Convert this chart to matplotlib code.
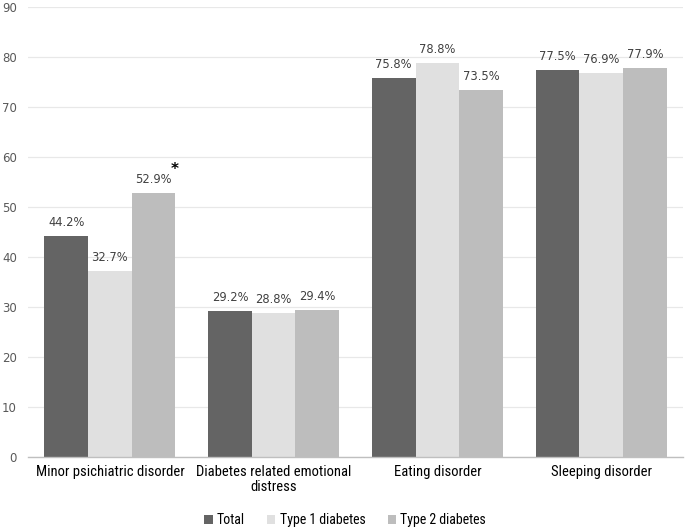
import matplotlib
matplotlib.use("Agg")
import matplotlib.pyplot as plt
import numpy as np
from matplotlib import font_manager as fm

categories = ["Minor psichiatric disorder", "Diabetes related emotional\ndistress", "Eating disorder", "Sleeping disorder"]
series_names = ["Total", "Type 1 diabetes", "Type 2 diabetes"]
total = [44.2, 29.2, 75.8, 77.5]
type1 = [37.2, 28.8, 78.8, 76.9]
type2 = [52.9, 29.4, 73.5, 77.9]
label_total = ["44.2%", "29.2%", "75.8%", "77.5%"]
label_type1 = ["32.7%", "28.8%", "78.8%", "76.9%"]
label_type2 = ["52.9%*", "29.4%", "73.5%", "77.9%"]
yticks = [0, 10, 20, 30, 40, 50, 60, 70, 80, 90]

colors = ["#646464", "#e0e0e0", "#bdbdbd"]

names = {f.name for f in fm.fontManager.ttflist}
narrow = None
for cand in ["Liberation Sans Narrow", "DejaVu Sans Condensed", "Roboto Condensed", "Open Sans Condensed"]:
    if cand in names:
        narrow = cand
        break
if narrow is None:
    narrow = "Liberation Sans"
    xsize = 9.6
else:
    xsize = 10.5

fig = plt.figure(figsize=(6.85, 5.31), dpi=100)
ax = fig.add_axes([28/685, 74/531, 655/685, 450/531])

x = np.arange(len(categories))
w = 0.8/3
series = [total, type1, type2]
labels = [label_total, label_type1, label_type2]
for i, (vals, labs) in enumerate(zip(series, labels)):
    pos = x + (i-1)*w
    ax.bar(pos, vals, width=w, color=colors[i], label=series_names[i], zorder=2)
    for p, v, l in zip(pos, vals, labs):
        star = l.endswith("*")
        txt = l.rstrip("*")
        ax.annotate(txt, (p, v), xytext=(0, 5), textcoords="offset points",
                    ha="center", va="bottom", fontsize=8.3, color="#404040", family="DejaVu Sans")
        if star:
            ax.annotate("*", (p, v), xytext=(15, 11.5), textcoords="offset points",
                        ha="center", va="bottom", fontsize=11, color="black", fontweight="bold")

ax.set_xlim(-0.5, 3.5)
ax.set_ylim(0, 90)
ax.set_yticks(yticks)
ax.set_yticklabels([str(t) for t in yticks], color="#595959", fontsize=8.5)
ax.set_xticks(x)
ax.set_xticklabels(categories, fontsize=xsize, family=narrow, color="black", linespacing=1.1)
ax.tick_params(axis="both", length=0)
ax.tick_params(axis="y", pad=8)
ax.tick_params(axis="x", pad=6)
ax.yaxis.grid(True, color="#e8e8e8", linewidth=0.9, zorder=0)
ax.set_axisbelow(True)
for s in ["top", "right", "left"]:
    ax.spines[s].set_visible(False)
ax.spines["bottom"].set_color("#bfbfbf")
ax.spines["bottom"].set_linewidth(1)

leg = fig.legend(loc="center", bbox_to_anchor=(345/685, 1-520/531), ncol=3, frameon=False,
                 prop={"family": narrow, "size": xsize - 0.5}, handlelength=0.6, handleheight=0.6,
                 handletextpad=0.3, columnspacing=1.6)

fig.savefig("out.png", dpi=100)
